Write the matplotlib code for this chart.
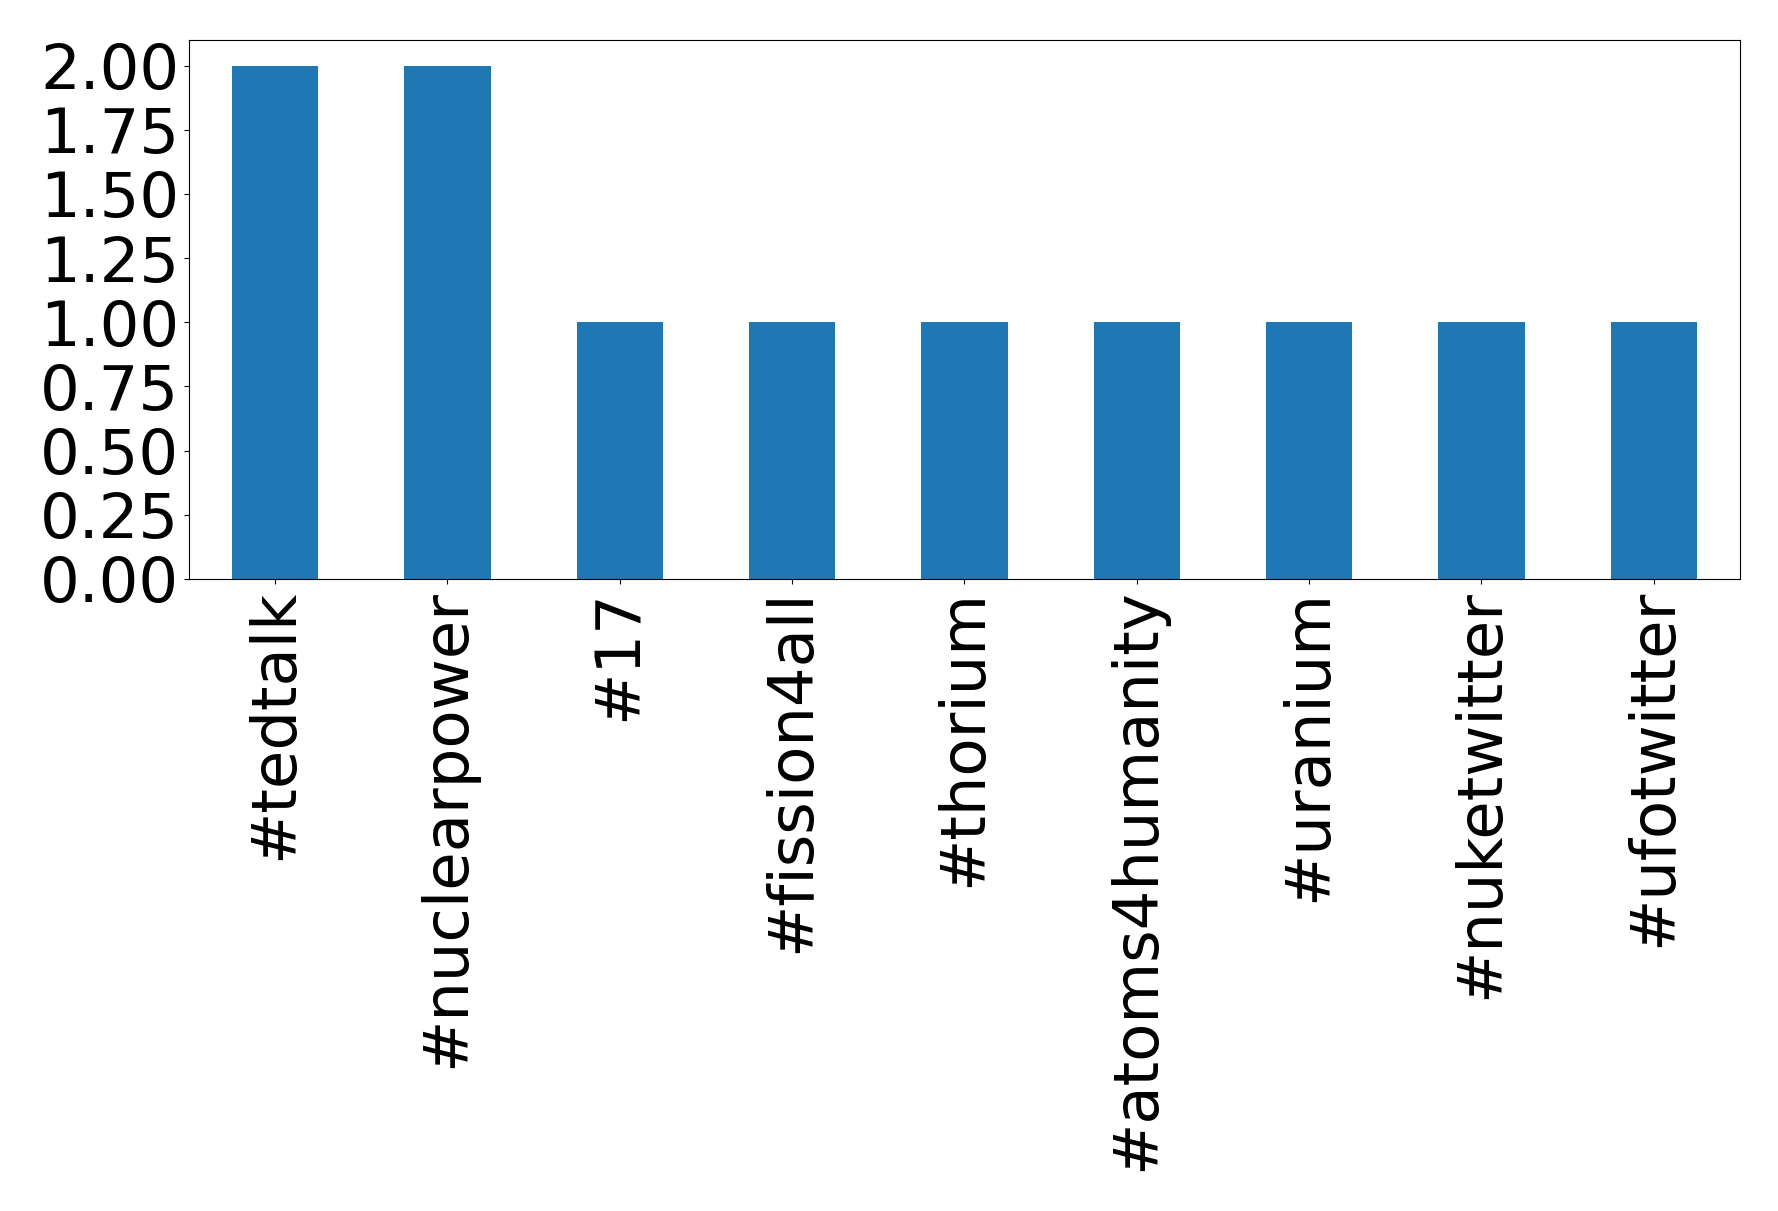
import matplotlib
matplotlib.use('Agg')
import matplotlib.pyplot as plt
import pandas as pd

hashtags = ['#tedtalk', '#nuclearpower', '#17', '#fission4all', '#thorium',
            '#atoms4humanity', '#uranium', '#nuketwitter', '#ufotwitter']
counts = [2, 2, 1, 1, 1, 1, 1, 1, 1]

data = pd.Series(counts, index=hashtags)

plt.rcParams.update({'font.size': 45})
fig = plt.figure(figsize=(17.78, 12.11), dpi=100)
ax = fig.add_axes([0.1063, 0.5219, 0.9786 - 0.1063, 0.967 - 0.5219])
data.plot(kind='bar', ax=ax, color='#1f77b4')
ax.yaxis.set_major_locator(matplotlib.ticker.MultipleLocator(0.25))
ax.yaxis.set_major_formatter(matplotlib.ticker.FormatStrFormatter('%.2f'))

plt.savefig('out.png', dpi=100)
